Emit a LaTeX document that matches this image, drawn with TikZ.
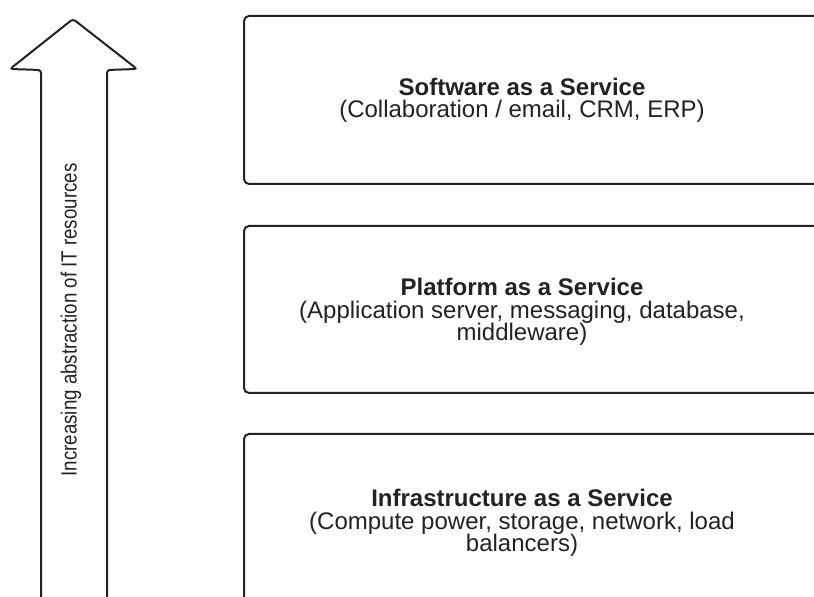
\documentclass[tikz,border=0pt]{standalone}
\usepackage{fontspec}
\setmainfont{Liberation Sans}
\newfontfamily\narrowsans[FakeStretch=0.85]{Liberation Sans}
\definecolor{inkgrey}{RGB}{34, 34, 34}
\usetikzlibrary{positioning}
\tikzset{
    layerbox/.style={draw=inkgrey, line width=1pt, rounded corners=2.5pt},
    layertext/.style={align=center, inner sep=0pt, text=inkgrey,
        font=\fontsize{12}{11.2}\selectfont},
    upwardarrow/.style={draw=inkgrey, line width=1pt, rounded corners=1.5pt},
}

\begin{document}
\begin{tikzpicture}[x=0.5pt, y=-0.5pt]
        \useasboundingbox (0, 0) rectangle (814, 597);
        \clip (0, 0) rectangle (814, 597);
        \coordinate (saas) at (522, 100);
        \coordinate (paas) at (522, 312);
        \coordinate (iaas) at (522, 523);
        \draw[layerbox] (244, 16) rectangle (840, 184);
        \draw[layerbox] (244, 226) rectangle (840, 393);
        \draw[layerbox] (244, 434) rectangle (840, 606);
        \node[layertext] (saastext) at (saas)
            {\textbf{Software as a Service}\\(Collaboration / email, CRM, ERP)};
        \node[layertext] (paastext) at (paas)
            {\textbf{Platform as a Service}\\(Application server, messaging, database,\\middleware)};
        \node[layertext] (iaastext) at (iaas)
            {\textbf{Infrastructure as a Service}\\(Compute power, storage, network, load\\balancers)};
        \draw[upwardarrow] (41, 610) -- (41, 70) -- (10, 69) -- (73, 19)
            -- (137, 69) -- (107, 70) -- (107, 610);
        \node[rotate=90, inner sep=0pt, text=inkgrey,
            font=\narrowsans\fontsize{11}{13}\selectfont] (abstraction) at (71, 320)
            {Increasing abstraction of IT resources};
    \end{tikzpicture}
\end{document}
